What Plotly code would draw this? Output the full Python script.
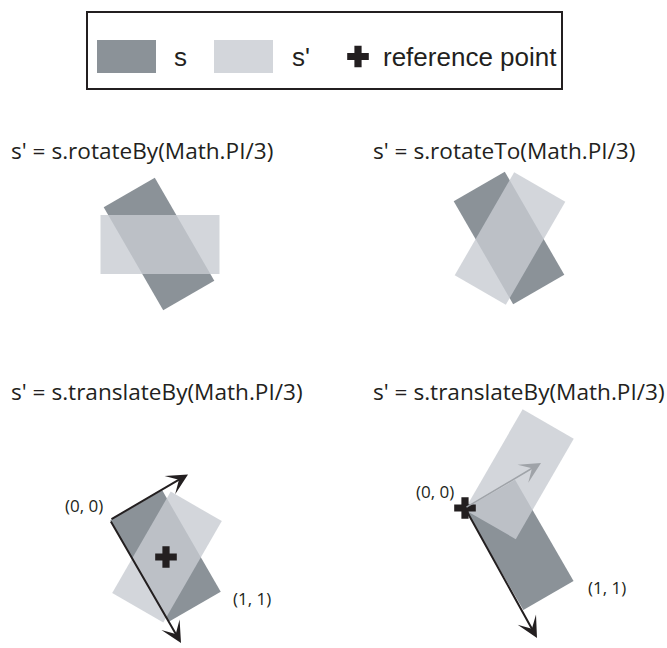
import numpy as np
import plotly.graph_objects as go

W_PX, H_PX = 667, 648
DARK = "rgb(139,146,152)"
LIGHT = "rgba(200,204,210,0.8)"
INK = "#231f20"

# ---- panel titles
titles = ["s' = s.rotateBy(Math.PI/3)", "s' = s.rotateTo(Math.PI/3)",
          "s' = s.translateBy(Math.PI/3)", "s' = s.translateBy(Math.PI/3)"]
title_x = [9, 371, 9, 371]
title_y = [150, 150, 391, 391]

# ---- rectangles: centre x, centre y, long side, short side, angle of long side (deg, screen)
rect_kind = ["s", "s'", "s", "s'", "s", "s'", "s", "s'"]
rect_cx = [159, 160, 509, 510, 165.5, 167, 519.2, 519.2]
rect_cy = [244, 244.5, 238, 238.5, 556, 557, 544.9, 474.2]
rect_len = [119, 119, 119, 119, 117, 117, 117, 116]
rect_wid = [59, 59, 59, 59, 60, 59, 58, 59]
rect_ang = [60, 0, 60, 120, 60, 120, 60, -60]

# ---- reference points
ref_x = [166, 465]
ref_y = [557, 508]

# ---- arrows (tail -> head)
arr_tail_x = [110, 110, 465, 465]
arr_tail_y = [520, 520, 508, 508]
arr_head_x = [188, 181, 537, 541]
arr_head_y = [474.5, 643, 638, 463]
arr_color = [INK, INK, INK, "#9fa3a8"]
arr_width = [2, 2, 2, 1.5]

# ---- coordinate labels
lab_text = ["(0, 0)", "(1, 1)", "(0, 0)", "(1, 1)"]
lab_x = [84, 252, 435, 607]
lab_y = [505, 598, 491, 587]

# ---- legend
leg_box = [87, 12, 562, 89]
leg_swatch_x0 = [97, 214]
leg_swatch_x1 = [156, 273]
leg_swatch_y = [40, 73]
leg_labels = ["s", "s'", "reference point"]
leg_label_x = [172, 290, 381]
leg_plus_x = 358
leg_cy = 56.5

fig = go.Figure()

def corners(cx, cy, L, Wd, a):
    t = np.deg2rad(a)
    u = np.array([np.cos(t), np.sin(t)])
    v = np.array([-np.sin(t), np.cos(t)])
    c = np.array([cx, cy])
    pts = [c + L / 2 * u + Wd / 2 * v, c + L / 2 * u - Wd / 2 * v,
           c - L / 2 * u - Wd / 2 * v, c - L / 2 * u + Wd / 2 * v]
    pts.append(pts[0])
    return [p[0] for p in pts], [p[1] for p in pts]

for k, cx, cy, L, Wd, a in zip(rect_kind, rect_cx, rect_cy, rect_len, rect_wid, rect_ang):
    xs, ys = corners(cx, cy, L, Wd, a)
    fig.add_trace(go.Scatter(x=xs, y=ys, mode="lines", fill="toself",
                             fillcolor=DARK if k == "s" else LIGHT,
                             line=dict(width=0), hoverinfo="skip", showlegend=False))

# legend swatches
for i, col in enumerate([DARK, LIGHT]):
    x0, x1 = leg_swatch_x0[i], leg_swatch_x1[i]
    y0, y1 = leg_swatch_y
    fig.add_trace(go.Scatter(x=[x0, x1, x1, x0, x0], y=[y0, y0, y1, y1, y0], mode="lines",
                             fill="toself", fillcolor=col, line=dict(width=0),
                             hoverinfo="skip", showlegend=False))

# reference point crosses
fig.add_trace(go.Scatter(x=ref_x + [leg_plus_x], y=ref_y + [leg_cy], mode="markers",
                         marker=dict(symbol="cross", size=18, color=INK, line=dict(width=0)),
                         hoverinfo="skip", showlegend=False))

ann = []
for tx, ty, hx, hy, c, w in zip(arr_tail_x, arr_tail_y, arr_head_x, arr_head_y, arr_color, arr_width):
    ann.append(dict(x=hx, y=hy, ax=tx, ay=ty, xref="x", yref="y", axref="x", ayref="y",
                    showarrow=True, arrowhead=3, arrowsize=1.75 * 2 / w, arrowwidth=w,
                    arrowcolor=c, standoff=0, startstandoff=0, text=""))

for t, x, y in zip(titles, title_x, title_y):
    ann.append(dict(x=x, y=y, xref="x", yref="y", text=t, showarrow=False,
                    xanchor="left", yanchor="middle",
                    font=dict(family="Open Sans", size=22.6, color=INK)))

for t, x, y in zip(lab_text, lab_x, lab_y):
    ann.append(dict(x=x, y=y, xref="x", yref="y", text=t, showarrow=False,
                    xanchor="center", yanchor="middle",
                    font=dict(family="Open Sans", size=17, color=INK)))

for t, x in zip(leg_labels, leg_label_x):
    ann.append(dict(x=x, y=leg_cy, xref="x", yref="y", text=t, showarrow=False,
                    xanchor="left", yanchor="middle",
                    font=dict(family="Liberation Sans, Arial", size=26, color=INK)))

fig.update_layout(
    width=W_PX, height=H_PX,
    margin=dict(l=0, r=0, t=0, b=0),
    paper_bgcolor="white", plot_bgcolor="white",
    hovermode=False,
    xaxis=dict(range=[0, W_PX], visible=False, fixedrange=True),
    yaxis=dict(range=[H_PX, 0], visible=False, fixedrange=True),
    annotations=ann,
    shapes=[dict(type="rect", xref="x", yref="y", x0=leg_box[0], y0=leg_box[1],
                 x1=leg_box[2], y1=leg_box[3], line=dict(color=INK, width=2))],
)

fig.write_html("out.html", config={"displayModeBar": False},
               post_script="document.body.style.margin='0';document.body.style.overflow='hidden';")
